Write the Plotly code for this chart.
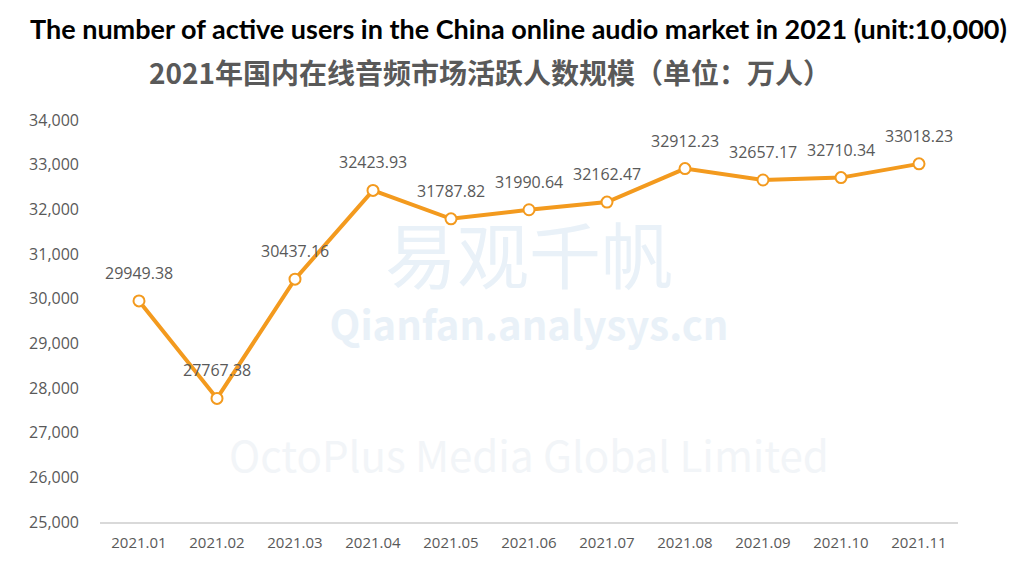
import plotly.graph_objects as go

months = ["2021.01", "2021.02", "2021.03", "2021.04", "2021.05", "2021.06",
          "2021.07", "2021.08", "2021.09", "2021.10", "2021.11"]
users = [29949.38, 27767.38, 30437.16, 32423.93, 31787.82, 31990.64,
         32162.47, 32912.23, 32657.17, 32710.34, 33018.23]
y_ticks = [25000, 26000, 27000, 28000, 29000, 30000, 31000, 32000, 33000, 34000]

title_en = "The number of active users in the China online audio market in 2021 (unit:10,000)"
title_cn = "2021年国内在线音频市场活跃人数规模（单位：万人）"

wm_text = ["易观千帆", "<b>Qianfan.analysys.cn</b>", "OctoPlus Media Global Limited"]
wm_x = ["2021.06", "2021.06", "2021.06"]
wm_y = [30750, 29300, 26350]

fig = go.Figure()
# faint watermark, drawn beneath the data line
fig.add_trace(go.Scatter(
    x=wm_x, y=wm_y, mode="text", text=wm_text,
    textfont=dict(family="Noto Sans CJK SC, Open Sans", size=[72, 40, 42],
                  color=["#e9f1f8", "#e9f1f8", "#f2f5f8"]),
    hoverinfo="skip", cliponaxis=False,
))
fig.add_trace(go.Scatter(
    x=months, y=users,
    mode="lines+markers",
    line=dict(color="#F39A1E", width=4),
    marker=dict(size=11, color="white", line=dict(color="#F39A1E", width=2)),
    cliponaxis=False,
    hoverinfo="x+y",
))

# data labels (category index used as x position)
for i, v in enumerate(users):
    fig.add_annotation(x=i, y=v, xref="x", yref="y", text=f"{v:.2f}", showarrow=False,
                       yshift=28, yanchor="middle",
                       font=dict(family="Open Sans, sans-serif", size=16, color="#595959"))

fig.update_layout(
    width=1024, height=586,
    margin=dict(l=100, r=66, t=120, b=64),
    paper_bgcolor="white", plot_bgcolor="white",
    showlegend=False,
    xaxis=dict(
        type="category",
        categoryorder="array", categoryarray=months,
        range=[-0.5, len(months) - 0.5],
        showgrid=False, zeroline=False,
        showline=True, linecolor="#d9d9d9", linewidth=2,
        ticks="", ticklabelstandoff=6,
        tickfont=dict(family="Open Sans, sans-serif", size=15, color="#595959"),
    ),
    yaxis=dict(
        range=[25000, 34000],
        tickvals=y_ticks,
        tickformat=",d",
        showgrid=False, zeroline=False, showline=False,
        ticks="", ticklabelstandoff=20,
        tickfont=dict(family="Open Sans, sans-serif", size=16, color="#595959"),
    ),
)

fig.add_annotation(x=0.488, y=1, xref="paper", yref="paper", yanchor="middle",
                   yshift=120 - 28, xanchor="center", showarrow=False,
                   text="<b>" + title_en + "</b>",
                   font=dict(family="Lato, sans-serif", size=27, color="black"))
fig.add_annotation(x=0.455, y=1, xref="paper", yref="paper", yanchor="middle",
                   yshift=120 - 72, xanchor="center", showarrow=False,
                   text="<b>" + title_cn + "</b>",
                   font=dict(family="Noto Sans CJK SC", size=28, color="#595959"))

fig.write_html("out.html")
